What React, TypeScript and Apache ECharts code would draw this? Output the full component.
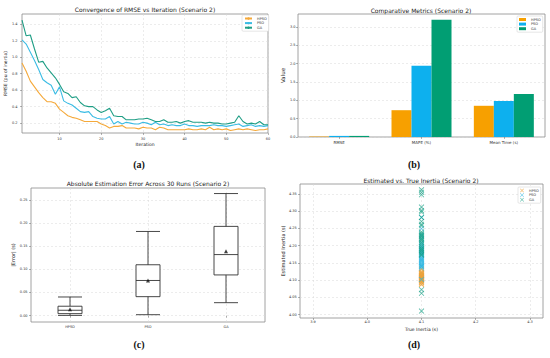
import React, { useEffect, useRef } from "react";
import * as echarts from "echarts";

// ---------- data ----------
const algorithms = ["HPSO", "PSO", "GA"];

// (a) convergence curves, iterations 1..60
const hpsoRmse = [0.93, 0.83, 0.71, 0.64, 0.57, 0.51, 0.46, 0.46, 0.44, 0.37, 0.33, 0.29, 0.27, 0.26, 0.24, 0.22, 0.22, 0.22, 0.22, 0.19, 0.17, 0.14, 0.16, 0.16, 0.17, 0.14, 0.14, 0.14, 0.13, 0.15, 0.14, 0.14, 0.12, 0.15, 0.14, 0.12, 0.12, 0.12, 0.12, 0.12, 0.13, 0.12, 0.12, 0.13, 0.12, 0.15, 0.12, 0.13, 0.12, 0.13, 0.11, 0.12, 0.13, 0.12, 0.13, 0.12, 0.11, 0.12, 0.12, 0.13];
const psoRmse = [1.21, 1.16, 1.06, 0.96, 0.85, 0.73, 0.69, 0.66, 0.55, 0.64, 0.47, 0.44, 0.42, 0.38, 0.34, 0.33, 0.34, 0.28, 0.26, 0.25, 0.25, 0.28, 0.19, 0.22, 0.19, 0.21, 0.2, 0.19, 0.19, 0.21, 0.2, 0.18, 0.21, 0.18, 0.19, 0.17, 0.18, 0.17, 0.17, 0.19, 0.17, 0.17, 0.16, 0.17, 0.17, 0.17, 0.18, 0.17, 0.17, 0.16, 0.17, 0.18, 0.19, 0.16, 0.17, 0.18, 0.16, 0.17, 0.16, 0.17];
const gaRmse = [1.45, 1.26, 1.27, 1.1, 0.94, 0.95, 0.87, 0.81, 0.75, 0.67, 0.58, 0.56, 0.51, 0.52, 0.45, 0.41, 0.4, 0.4, 0.36, 0.33, 0.35, 0.38, 0.29, 0.28, 0.28, 0.24, 0.24, 0.24, 0.25, 0.25, 0.26, 0.24, 0.22, 0.22, 0.24, 0.21, 0.21, 0.22, 0.2, 0.22, 0.23, 0.21, 0.21, 0.21, 0.2, 0.21, 0.2, 0.2, 0.19, 0.19, 0.2, 0.21, 0.29, 0.22, 0.19, 0.2, 0.19, 0.22, 0.18, 0.18];
const iterTicks = [10, 20, 30, 40, 50, 60];
const rmseTicks = [0.2, 0.4, 0.6, 0.8, 1.0, 1.2, 1.4];

// (b) comparative metrics
const metricCats = ["RMSE", "MAPE (%)", "Mean Time (s)"];
const hpsoMetrics = [0.012, 0.73, 0.85];
const psoMetrics = [0.03, 1.94, 0.98];
const gaMetrics = [0.03, 3.19, 1.17];
const valueTicks = [0, 0.5, 1.0, 1.5, 2.0, 2.5, 3.0];

// (c) absolute error box plots: [min, Q1, median, Q3, max]
const hpsoBox = [0.0005, 0.0043, 0.0116, 0.0203, 0.0403];
const psoBox = [0.002, 0.041, 0.076, 0.11, 0.182];
const gaBox = [0.028, 0.088, 0.132, 0.193, 0.264];
const errorMeans = [0.0138, 0.076, 0.139];
const errorTicks = [0, 0.05, 0.1, 0.15, 0.2, 0.25];

// (d) estimated vs true inertia
const trueInertia = 4.1;
const hpsoEst = [4.112, 4.105, 4.098, 4.121, 4.108, 4.093, 4.115, 4.102, 4.119, 4.087, 4.11, 4.104, 4.125, 4.096, 4.113, 4.101, 4.13, 4.107, 4.094, 4.117, 4.109, 4.133, 4.1, 4.114, 4.106, 4.089, 4.122, 4.103, 4.111, 4.118];
const psoEst = [4.145, 4.172, 4.158, 4.21, 4.182, 4.139, 4.165, 4.195, 4.152, 4.176, 4.142, 4.23, 4.188, 4.162, 4.205, 4.148, 4.178, 4.135, 4.22, 4.168, 4.102, 4.155, 4.192, 4.282, 4.175, 4.16, 4.14, 4.2, 4.185, 4.25];
const gaEst = [4.362, 4.355, 4.348, 4.312, 4.302, 4.298, 4.282, 4.27, 4.262, 4.258, 4.235, 4.228, 4.222, 4.215, 4.21, 4.205, 4.198, 4.192, 4.185, 4.18, 4.175, 4.232, 4.218, 4.188, 4.072, 4.062, 4.01, 4.24, 4.172, 4.226];
const trueTicks = [3.9, 4.0, 4.1, 4.2, 4.3];
const estTicks = [4.0, 4.05, 4.1, 4.15, 4.2, 4.25, 4.3, 4.35];

// ---------- styles ----------
const FONT = "DejaVu Sans";
const lineColors = ["#F5A93A", "#3BBCE4", "#1F9E85"];
const barColors = ["#F7A000", "#0DB0EE", "#019E73"];
const scatterColors = ["#EBA33C", "#2CB6E0", "#17A085"];
const XMARK = "path://M0,1L1,0L5,4L9,0L10,1L6,5L10,9L9,10L5,6L1,10L0,9L4,5Z";

const gridStyle = { show: true, borderColor: "#8c8c8c", borderWidth: 0.8, backgroundColor: "#fff" };
const splitStyle = { lineStyle: { color: "#d9d9d9", width: 0.5, type: [2, 2] as any } };
const tickLabel = (fs: number, margin: number, fmt?: (v: number) => string, custom?: number[]) => ({
  fontSize: fs,
  fontFamily: FONT,
  color: "#333",
  margin,
  ...(fmt ? { formatter: fmt } : {}),
  ...(custom ? { customValues: custom } : {}),
});
const nameStyle = (fs: number) => ({ fontSize: fs, fontFamily: FONT, color: "#222" });

function valueAxis(grid: number, min: number, max: number, ticks: number[], fmt: (v: number) => string, fs: number, margin: number, extra: any = {}) {
  return {
    type: "value",
    gridIndex: grid,
    min,
    max,
    axisLine: { show: false },
    axisTick: { show: true, length: 2, customValues: ticks, lineStyle: { color: "#666", width: 0.5 } },
    axisLabel: tickLabel(fs, margin, fmt, ticks),
    splitLine: { show: true, ...splitStyle },
    ...extra,
  };
}

const strip = (n: string) => n.split("|")[0];

export default function App() {
  const ref = useRef<HTMLDivElement>(null);
  useEffect(() => {
    if (!ref.current) return;
    const chart = echarts.init(ref.current, undefined, { renderer: "svg" });
    const f1 = (v: number) => v.toFixed(1);
    const f2 = (v: number) => v.toFixed(2);

    const legendBase = {
      orient: "vertical",
      formatter: strip,
      itemGap: 0.6,
      padding: [1.5, 2],
      borderColor: "#cccccc",
      borderWidth: 0.5,
      borderRadius: 1,
      backgroundColor: "#fff",
      textStyle: { fontSize: 3.5, fontFamily: FONT, color: "#333" },
    };

    const option: any = {
      animation: false,
      backgroundColor: "#fff",
      grid: [
        { left: 22, top: 14, width: 246, height: 119, ...gridStyle },
        { left: 298, top: 14, width: 247, height: 123, ...gridStyle },
        { left: 31, top: 188, width: 234, height: 134, ...gridStyle },
        { left: 300, top: 184, width: 243, height: 134, ...gridStyle },
      ],
      xAxis: [
        valueAxis(0, 1, 60, iterTicks, (v) => String(v), 3.5, 4, {
          name: "Iteration", nameLocation: "middle", nameGap: 7, nameTextStyle: nameStyle(4.5),
        }),
        {
          type: "category", gridIndex: 1, data: metricCats,
          axisLine: { show: false },
          axisTick: { show: true, length: 2, alignWithLabel: true, lineStyle: { color: "#666", width: 0.5 } },
          axisLabel: tickLabel(4, 3),
          splitLine: { show: false },
        },
        {
          type: "category", gridIndex: 2, data: algorithms,
          axisLine: { show: false },
          axisTick: { show: true, length: 2, alignWithLabel: true, lineStyle: { color: "#666", width: 0.5 } },
          axisLabel: tickLabel(3.5, 2.5),
          splitLine: { show: true, alignWithLabel: true, ...splitStyle },
        },
        valueAxis(3, 3.876, 4.324, trueTicks, f1, 3.5, 1.5, {
          name: "True Inertia (s)", nameLocation: "middle", nameGap: 9, nameTextStyle: nameStyle(4.5),
        }),
      ],
      yAxis: [
        valueAxis(0, 0.08, 1.525, rmseTicks, f1, 3.5, 4.5, {
          name: "RMSE (pu of inertia)", nameLocation: "middle", nameGap: 9, nameTextStyle: nameStyle(4.5),
        }),
        valueAxis(1, 0, 3.35, valueTicks, f1, 3.5, 2.5, {
          name: "Value", nameLocation: "middle", nameGap: 8, nameTextStyle: nameStyle(5.5),
        }),
        valueAxis(2, -0.0138, 0.276, errorTicks, f2, 3.5, 3.4, {
          name: "|Error| (s)", nameLocation: "middle", nameGap: 12, nameTextStyle: nameStyle(5),
        }),
        valueAxis(3, 3.99, 4.379, estTicks, f2, 3.5, 3.3, {
          name: "Estimated Inertia (s)", nameLocation: "middle", nameGap: 11.5, nameTextStyle: nameStyle(5),
        }),
      ],
      legend: [
        {
          ...legendBase, left: 242, top: 15,
          data: algorithms.map((a) => a + "|a"),
          itemWidth: 7, itemHeight: 3,
        },
        {
          ...legendBase, left: 517, top: 16,
          data: algorithms.map((a) => a + "|b"),
          icon: "rect", itemWidth: 7, itemHeight: 3,
        },
        {
          ...legendBase, left: 518, top: 187,
          data: algorithms.map((a) => a + "|d"),
          icon: XMARK, itemWidth: 4, itemHeight: 4,
        },
      ],
      series: [
        ...[hpsoRmse, psoRmse, gaRmse].map((arr, k) => ({
          type: "line",
          name: algorithms[k] + "|a",
          xAxisIndex: 0, yAxisIndex: 0,
          symbol: "none",
          data: arr.map((v, i) => [i + 1, v]),
          lineStyle: { color: lineColors[k], width: 1.1 },
          itemStyle: { color: lineColors[k] },
        })),
        ...[hpsoMetrics, psoMetrics, gaMetrics].map((arr, k) => ({
          type: "bar",
          name: algorithms[k] + "|b",
          xAxisIndex: 1, yAxisIndex: 1,
          data: arr,
          barWidth: 20,
          barGap: "0%",
          itemStyle: { color: barColors[k] },
        })),
        {
          type: "boxplot",
          name: "errors",
          xAxisIndex: 2, yAxisIndex: 2,
          boxWidth: [24, 24],
          data: [hpsoBox, psoBox, gaBox],
          itemStyle: { color: "#fff", borderColor: "#333", borderWidth: 0.9 },
        },
        {
          type: "scatter",
          name: "mean",
          xAxisIndex: 2, yAxisIndex: 2,
          symbol: "triangle",
          symbolSize: 4,
          data: errorMeans.map((v, i) => [algorithms[i], v]),
          itemStyle: { color: "#111" },
          z: 5,
        },
        ...[hpsoEst, psoEst, gaEst].map((arr, k) => ({
          type: "scatter",
          name: algorithms[k] + "|d",
          xAxisIndex: 3, yAxisIndex: 3,
          symbol: XMARK,
          symbolSize: 5.5,
          data: arr.map((v) => [trueInertia, v]),
          itemStyle: { color: scatterColors[k], opacity: 0.75 },
        })),
      ],
      graphic: [
        ...[
          ["Convergence of RMSE vs Iteration (Scenario 2)", 145, 9.5],
          ["Comparative Metrics (Scenario 2)", 421, 10.5],
          ["Absolute Estimation Error Across 30 Runs (Scenario 2)", 148, 183],
          ["Estimated vs. True Inertia (Scenario 2)", 421, 180],
        ].map(([t, x, y]) => ({
          type: "text", x, y,
          style: { text: t, fontSize: 6, fontFamily: FONT, fill: "#222", textAlign: "center", textVerticalAlign: "middle" },
        })),
        ...[
          ["(a)", 139, 164],
          ["(b)", 414, 164],
          ["(c)", 139, 344],
          ["(d)", 414, 344],
        ].map(([t, x, y]) => ({
          type: "text", x, y,
          style: { text: t, fontSize: 10, fontWeight: "bold", fontFamily: "Liberation Serif", fill: "#111", textAlign: "center", textVerticalAlign: "middle" },
        })),
      ],
    };
    chart.setOption(option);
    return () => chart.dispose();
  }, []);
  return <div ref={ref} style={{ position: "absolute", left: 0, top: 0, width: 550, height: 358, background: "#fff" }} />;
}
